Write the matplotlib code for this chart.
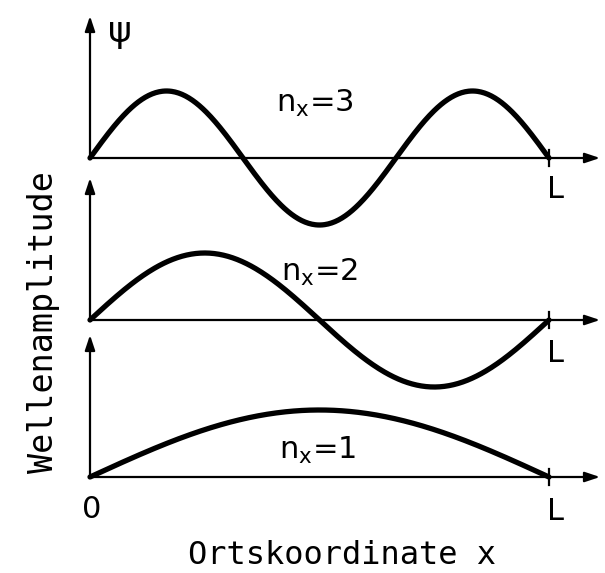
import numpy as np
import matplotlib
matplotlib.use("Agg")
import matplotlib.pyplot as plt

plt.rcParams['font.family'] = ['DejaVu Sans']
plt.rcParams['mathtext.default'] = 'regular'

# data
quantum_numbers = [3, 2, 1]
panel_labels = ["n$_x$=3", "n$_x$=2", "n$_x$=1"]
amplitude = 1.0
L = 1.0
x_label = "Ortskoordinate x"
y_label = "Wellenamplitude"
origin_label = "0"
end_label = "L"
psi_label = "ψ"

W, H = 605, 573
fig = plt.figure(figsize=(W / 100, H / 100), dpi=100)
ax = fig.add_axes([0, 0, 1, 1])
ax.set_axis_off()

# pixel layout helpers
x0_px, xL_px = 90, 549
ppx = (xL_px - x0_px) / L
amp_px = 67.0
base_px = [158, 320, 477]

ax.set_xlim(-x0_px / ppx, (W - x0_px) / ppx)
ref = base_px[2]
ax.set_ylim((ref - H) / amp_px, ref / amp_px)

def py(p):
    return (ref - p) / amp_px

def px(p):
    return (p - x0_px) / ppx

arrow_kw = dict(arrowstyle='-|>,head_length=0.9,head_width=0.3', lw=1.6, color='black',
                shrinkA=0, shrinkB=0)

x = np.linspace(0, L, 400)
text_pos = [(315, 103), (320, 272), (318, 450)]
Lpos = [190, 353, 512]
for n, lab, b, tp, lp in zip(quantum_numbers, panel_labels, base_px, text_pos, Lpos):
    yb = py(b)
    # horizontal axis
    ax.annotate('', xy=(px(600), yb), xytext=(px(x0_px), yb), arrowprops=arrow_kw)
    # vertical axis
    ax.annotate('', xy=(0, py(b - 142)), xytext=(0, yb), arrowprops=arrow_kw)
    # tick at L
    ax.plot([L, L], [py(b - 8), py(b + 8)], color='black', lw=1.6)
    # wave
    ax.plot(x, yb + amplitude * np.sin(n * np.pi * x / L), color='black', lw=3.8,
            solid_capstyle='round')
    ax.text(px(tp[0]), py(tp[1]), lab, fontsize=22, ha='center', va='center')
    ax.text(px(556), py(lp), end_label, fontsize=22, ha='center', va='center')

ax.text(px(92), py(510), origin_label, fontsize=22, ha='center', va='center')
ax.text(px(120), py(32), psi_label, fontsize=26, ha='center', va='center')
ax.text(px(342), py(555), x_label, fontsize=23, ha='center', va='center',
        family='DejaVu Sans Mono')
ax.text(px(44), py(322), y_label, fontsize=24, ha='center', va='center', rotation=90,
        family='DejaVu Sans Mono')

fig.savefig("out.png", dpi=100)
